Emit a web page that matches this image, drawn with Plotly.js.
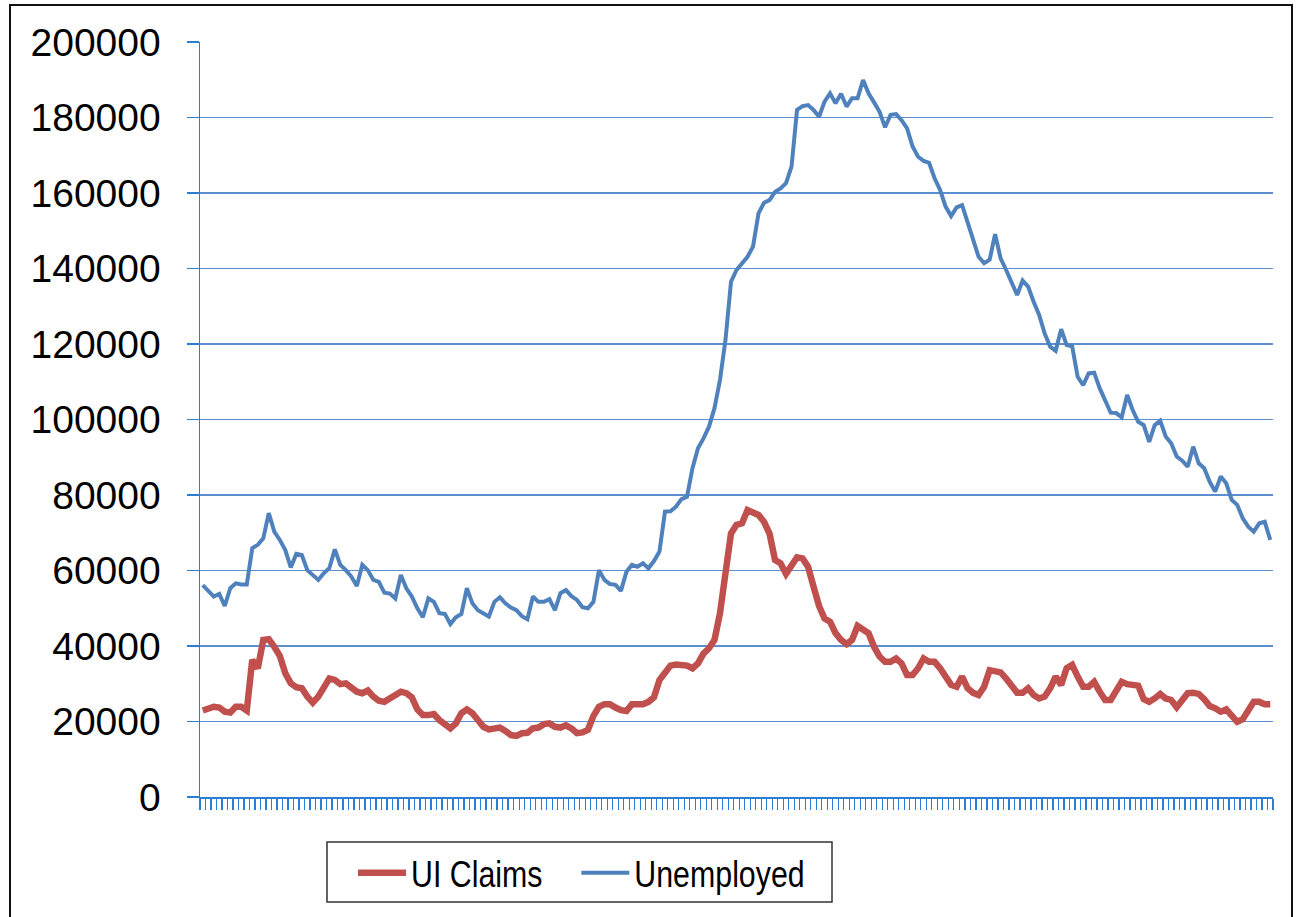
<!DOCTYPE html>
<html>
<head>
<meta charset="utf-8">
<script src="https://cdn.plot.ly/plotly-3.0.1.min.js"></script>
<style>
  html, body { margin: 0; padding: 0; background: #ffffff; overflow: hidden; }
  #wrap { position: relative; width: 1297px; height: 917px; }
  #chart { position: absolute; left: 0; top: 0; width: 1297px; height: 917px; }
  #frame { position: absolute; left: 9px; top: 4px; width: 1280px; height: 940px;
           border: 2.5px solid #111; pointer-events: none; }
</style>
</head>
<body>
<div id="wrap">
  <div id="chart"></div>
  <div id="frame"></div>
</div>
<script>
// Series names
const seriesNames = ["UI Claims", "Unemployed"];

// UI Claims (monthly)
const uiClaims = [
  22900, 23500, 23900, 23700, 22600, 22400, 23900, 23900, 22900, 36300,
  34100, 41600, 41800, 39800, 37400, 32800, 30100, 29100, 28800, 26600,
  25000, 26600, 29200, 31400, 31000, 29900, 30100, 29100, 27900, 27500,
  28200, 26600, 25500, 25200, 26100, 27500, 27900, 27500, 26400, 23200,
  21700, 21700, 22000, 20400, 19100, 18200, 19500, 22200, 23200, 22200,
  20400, 18600, 17900, 18000, 18400, 17500, 16400, 16200, 16900, 17000,
  18200, 18400, 19300, 19500, 18600, 18400, 19000, 18200, 16900, 17100,
  17800, 21500, 23900, 24600, 24600, 23700, 23000, 22800, 24600, 24600,
  24600, 25200, 26400, 31000, 33200, 34800, 35100, 35000, 34800, 34100,
  35400, 38000, 39400, 41600, 48700, 59300, 69800, 72100, 72500, 76000,
  75500, 74700, 72900, 69800, 62800, 61900, 59100, 61500, 63500, 63200,
  61000, 55700, 50600, 47300, 46400, 43400, 41600, 40500, 41600, 45300,
  44200, 43400, 39800, 37200, 35800, 35800, 36700, 35400, 32300, 32300,
  34100, 36700, 35800, 35800, 34100, 31900, 29700, 29200, 31900, 28800,
  27600, 27000, 29200, 33600, 33200, 33000, 31400, 29200, 27600, 27600,
  28800, 27000, 26100, 26600, 28800, 31900, 29700, 34100, 35000, 31900,
  29200, 29200, 30500, 27900, 25700, 25700, 27900, 30500, 29900, 29500,
  29500, 25900, 25200, 26100, 27300, 26100, 25700, 23800, 25700, 27500,
  27600, 27300, 25900, 24100, 23500, 22600, 23200, 21300, 19900, 20600,
  22600, 25200, 25200, 24600, 24600
];

// Unemployed (monthly)
const unemployed = [
  56100, 54400, 53100, 53800, 50600, 55300, 56600, 56300, 56300, 65900,
  66800, 68500, 75200, 70300, 68100, 65400, 60800, 64400, 64100, 60100,
  58800, 57500, 59300, 60600, 65600, 61500, 60100, 58400, 55900, 61500,
  60100, 57500, 57000, 54100, 53900, 52600, 58800, 55300, 53100, 50000,
  47600, 52600, 51700, 48700, 48500, 45800, 47600, 48500, 55300, 51300,
  49500, 48700, 47800, 51700, 52900, 51300, 50200, 49500, 47900, 47100,
  53100, 51700, 51700, 52400, 49500, 54000, 54800, 53200, 52200, 50300,
  50000, 51700, 60100, 57500, 56400, 56200, 54600, 59700, 61500, 61000,
  61900, 60600, 62500, 65000, 75600, 75700, 76900, 78900, 79500, 87100,
  92400, 95000, 98100, 103000, 110500, 121100, 136500, 139600, 141500, 143100,
  145800, 154600, 157400, 158100, 160300, 161200, 162600, 167000, 182000, 183000,
  183300, 182000, 180200, 184200, 186400, 183800, 186300, 182900, 185100, 185100,
  189900, 186400, 184000, 181500, 177400, 180700, 180900, 179300, 177100, 172300,
  169600, 168500, 168000, 163900, 160800, 156400, 153900, 156200, 156800, 152000,
  148000, 143100, 141400, 142300, 149100, 142700, 139600, 136100, 133000, 136800,
  135200, 131200, 127700, 122800, 119300, 118200, 123900, 119700, 119400, 111300,
  109100, 112200, 112400, 108300, 104700, 101800, 101700, 100600, 106500, 102500,
  99400, 98500, 94100, 98500, 99700, 95500, 93700, 90200, 89100, 87500,
  92800, 88400, 87100, 83500, 80900, 84900, 83100, 78700, 77400, 73800,
  71600, 70300, 72500, 72900, 68100
];

// Category index (one per month)
const periods = uiClaims.map((_, i) => i);

const FONT = "Liberation Sans, Arial, Helvetica, sans-serif";
const AXIS_BLUE = "#2a7fd4";
const GRID_BLUE = "#5b8fcf";

const traces = [
  {
    x: periods, y: uiClaims, name: seriesNames[0], type: "scatter", mode: "lines",
    line: { color: "#c0504d", width: 6.5, shape: "linear" }
  },
  {
    x: periods, y: unemployed, name: seriesNames[1], type: "scatter", mode: "lines",
    line: { color: "#4f81bd", width: 4, shape: "linear" }
  }
];

const layout = {
  width: 1297, height: 917,
  margin: { l: 200, r: 24, t: 42, b: 120, pad: 0 },
  paper_bgcolor: "rgba(0,0,0,0)",
  plot_bgcolor: "#ffffff",
  font: { family: FONT, color: "#000000", size: 38 },
  showlegend: true,
  xaxis: {
    range: [-0.5, periods.length - 0.5],
    tickmode: "linear", tick0: -0.5, dtick: 1,
    ticks: "outside", ticklen: 11, tickwidth: 1.3, tickcolor: AXIS_BLUE,
    showticklabels: false,
    showgrid: false, zeroline: false,
    showline: true, linecolor: AXIS_BLUE, linewidth: 1.5,
    fixedrange: true
  },
  yaxis: {
    range: [0, 200000], tickmode: "linear", tick0: 0, dtick: 20000,
    tickformat: "d",
    ticks: "outside", ticklen: 12, tickwidth: 1.3, tickcolor: AXIS_BLUE,
    ticklabelstandoff: 18,
    tickfont: { family: FONT, size: 39, color: "#000000" },
    showgrid: true, gridcolor: GRID_BLUE, gridwidth: 1.3,
    zeroline: false,
    showline: true, linecolor: AXIS_BLUE, linewidth: 1.5,
    fixedrange: true
  },
  legend: {
    orientation: "h",
    x: (353 - 200) / 1073, xanchor: "left",
    y: -0.06, yanchor: "top",
    bgcolor: "rgba(0,0,0,0)", borderwidth: 0,
    font: { family: FONT, size: 37, color: "#000000" },
    itemwidth: 48
  },
  shapes: [
    {
      type: "rect", xref: "paper", yref: "paper", layer: "below",
      x0: (327 - 200) / 1073, x1: (832 - 200) / 1073,
      y0: (797 - 902) / 755, y1: (797 - 842) / 755,
      line: { color: "#333333", width: 1.5 }, fillcolor: "#ffffff"
    }
  ]
};

Plotly.newPlot("chart", traces, layout, { staticPlot: true, displayModeBar: false }).then(function (gd) {
  // Legend text in the reference is horizontally condensed
  const k = 0.82;
  gd.querySelectorAll(".legendtext").forEach(function (t) {
    const x0 = parseFloat(t.getAttribute("x")) || 0;
    t.setAttribute("transform", "matrix(" + k + ",0,0,1," + (x0 * (1 - k)) + ",0)");
  });
});
</script>
</body>
</html>
